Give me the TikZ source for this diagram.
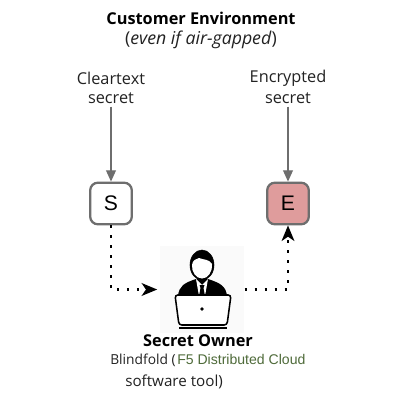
\documentclass[tikz,border=0pt]{standalone}
\usepackage{fontspec}
\setmainfont{Open Sans}
\newfontfamily\arialfont{Liberation Sans}
\usetikzlibrary{arrows.meta, positioning}
\definecolor{boxgray}{HTML}{6E6E6E}
\definecolor{boxred}{HTML}{DF9C9C}
\definecolor{toolgreen}{HTML}{4F6B3A}
\definecolor{textgray}{HTML}{222222}
\tikzset{
  secretbox/.style={draw=boxgray,rounded corners=5.5pt,line width=1.6pt,minimum size=1.04cm,inner sep=0pt,font=\arialfont\fontsize{15}{15}\selectfont},
  caption/.style={inner sep=0pt,font=\fontsize{11.6}{11.6}\selectfont,text=textgray},
  heading/.style={inner sep=0pt,font=\fontsize{11.6}{11.6}\selectfont\bfseries,text=black},
  feed/.style={draw=boxgray,line width=0.9pt,shorten <=2pt,-{Triangle[length=8pt,width=7pt,fill=boxgray]}},
  hop/.style={line width=1.9pt,dash pattern=on 1.9pt off 5.2pt,-{Stealth[length=11pt,width=9pt,inset=3pt]}}
}
\begin{document}
\begin{tikzpicture}[x=0.025cm,y=-0.025cm]
  \useasboundingbox (0,0) rectangle (400,400);
  \fill[white] (0,0) rectangle (400,400);
  \node[heading](title) at (201,18) {Customer Environment};
  \node[caption,font=\fontsize{12.6}{12.6}\selectfont](note) at (201,39.5) {(\textit{even if air-gapped})};
  \node[caption](clear) at (111,78) {Cleartext};
  \node[caption](clearb) at (111,98) {secret};
  \node[caption](enc) at (288,78) {Encrypted};
  \node[caption](encb) at (288,98) {secret};
  \node[secretbox](s) at (111,203.5) {S};
  \node[secretbox,fill=boxred](e) at (288,203.5) {E};
  \node[minimum width=2.12cm,minimum height=2.18cm,inner sep=0pt,fill=black!2](owner) at (202,289.5) {};
  % person
  \fill (178,296) .. controls (179,286) and (184,283) .. (196,279) -- (208,279) .. controls (220,283) and (226,286) .. (227,296) -- cycle;
  \fill[white] (196,279) -- (202,285) -- (208,279) -- (205,296) -- (199,296) -- cycle;
  \fill (199.5,285) -- (204.5,285) -- (203.5,288) -- (205,296) -- (199,296) -- (200.5,288) -- cycle;
  \filldraw[fill=black] (202,265) ellipse (12 and 15);
  \fill[white] (192,265) .. controls (192.5,260) and (196,259) .. (199,258) .. controls (204,260) and (209,259) .. (212,264) .. controls (212.5,272) and (208,278.5) .. (202,278.5) .. controls (196,278.5) and (191.5,272) .. (192,265) -- cycle;
  % laptop
  \filldraw[fill=white,line width=1.1pt,rounded corners=2pt] (175,295) -- (231,295) -- (227,325) -- (179,325) -- cycle;
  \draw[line width=1.3pt] (179,328) -- (227,328);
  \fill (202,309) circle (1.9);
  \node[heading](ownerlabel) at (198,341) {Secret Owner};
  \node[caption,anchor=base west,font=\fontsize{9.8}{9.8}\selectfont](tool) at (110,364) {Blindfold (};
  \node[inner sep=0pt,anchor=base west,text=toolgreen,font=\arialfont\fontsize{10}{10}\selectfont](cloud) at (177,364) {F5 Distributed Cloud};
  \node[caption,anchor=base west,font=\fontsize{10.8}{10.8}\selectfont](toolb) at (125,386) {software tool)};
  \draw[feed] (clearb) -- (s);
  \draw[feed] (encb) -- (e);
  \draw[hop,shorten >=1.5pt] (s) |- (owner);
  \draw[hop] (owner) -| (e);
\end{tikzpicture}
\end{document}
